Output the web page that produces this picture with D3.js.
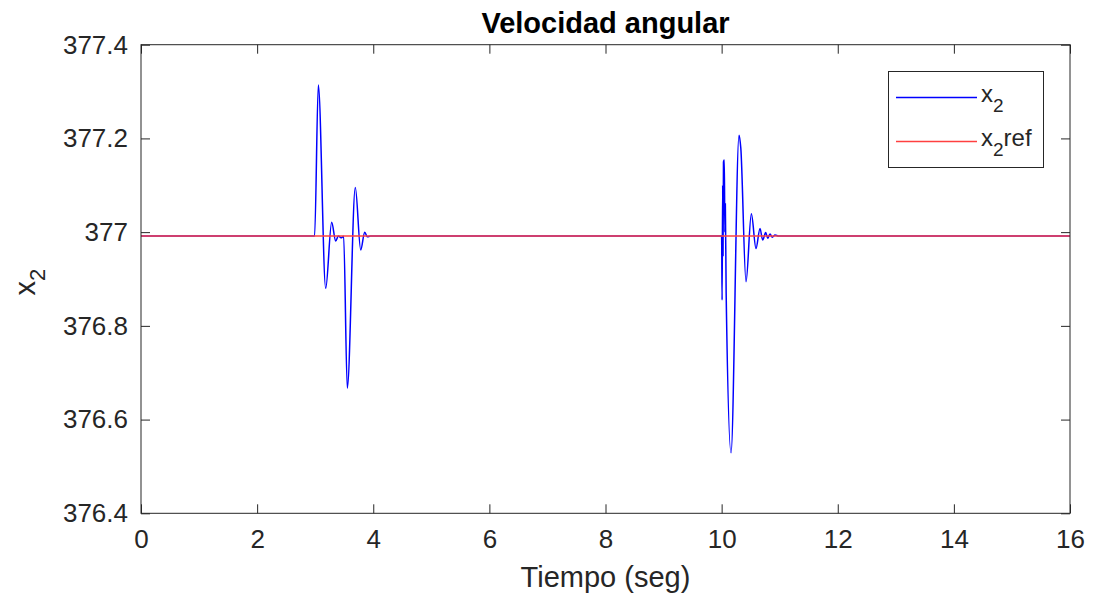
<!DOCTYPE html>
<meta charset="utf-8">
<head>
    <script type="text/javascript" src="https://cdn.jsdelivr.net/npm/d3@7"></script>
    <style>
        body { margin: 0; background: white; }
        text { font-family: "Liberation Sans", Arial, Helvetica, sans-serif; fill: #262626; }
    </style>
    <title>Velocidad angular</title>
</head>
<body>
<script>

    // time (s) and angular velocity
    var timeX2 = [0, 2.99, 3.054, 3.181, 3.284, 3.353, 3.399, 3.445, 3.49, 3.553, 3.691, 3.784, 3.853, 3.898, 3.95,
        10.0, 10.008, 10.018, 10.024, 10.032, 10.046, 10.056, 10.064, 10.078, 10.162, 10.30, 10.33, 10.42,
        10.512, 10.592, 10.661, 10.707, 10.759, 10.794, 10.833, 10.873, 10.92, 10.98, 16]
    var valX2 = [376.9915, 376.9915, 377.314, 376.880, 377.021, 376.981, 376.992, 376.988, 376.991, 376.667, 377.095, 376.962, 377.0, 376.99, 376.9915,
        376.9915, 376.855, 377.10, 376.95, 377.15, 377.154, 377.0, 377.06, 376.87, 376.529, 377.207, 377.18, 376.894,
        377.039, 376.965, 377.008, 376.983, 376.999, 376.987, 376.996, 376.989, 376.994, 376.9915, 376.9915]
    var timeRef = [0, 16]
    var valRef = [376.9915, 376.9915]

    var xTicks = [0, 2, 4, 6, 8, 10, 12, 14, 16]
    var yTicks = [376.4, 376.6, 376.8, 377, 377.2, 377.4]

    var width = 1095
    var height = 606
    var margin = {left: 141, top: 44.7, right: 25, bottom: 92.7}
    var w = width - margin.left - margin.right
    var h = height - margin.top - margin.bottom

    var svg = d3.select("body").append("svg")
        .attr("width", width)
        .attr("height", height)

    var x = d3.scaleLinear().domain([0, 16]).range([0, w])
    var y = d3.scaleLinear().domain([376.4, 377.4]).range([h, 0])

    var g = svg.append("g").attr("transform", "translate(" + margin.left + "," + margin.top + ")")

    var line = d3.line()
        .x(d => x(d[0]))
        .y(d => y(d[1]))
        .curve(d3.curveMonotoneX)

    g.append("path")
        .datum(d3.zip(timeX2, valX2))
        .attr("d", line)
        .style("fill", "none")
        .style("stroke", "#0000ff")
        .style("stroke-width", 1.5)

    g.append("path")
        .datum(d3.zip(timeRef, valRef))
        .attr("d", d3.line().x(d => x(d[0])).y(d => y(d[1])))
        .style("fill", "none")
        .style("stroke", "#ff4040")
        .style("stroke-width", 1.5)

    // axes, ticks pointing inward on all four sides
    var tl = 9
    function styleAxis(sel) {
        sel.select(".domain").remove()
        sel.selectAll(".tick line").style("stroke", "#262626")
        sel.selectAll(".tick text").style("font-size", "26px").style("fill", "#262626")
            .style("font-family", "'Liberation Sans', Arial, sans-serif")
    }

    g.append("g").attr("transform", "translate(0," + h + ")")
        .call(d3.axisBottom(x).tickValues(xTicks).tickSizeInner(-tl).tickSizeOuter(0).tickPadding(16).tickFormat(d3.format("d")))
        .call(styleAxis)
    g.append("g")
        .call(d3.axisTop(x).tickValues(xTicks).tickSizeInner(-tl).tickSizeOuter(0).tickFormat(""))
        .call(styleAxis)
    g.append("g")
        .call(d3.axisLeft(y).tickValues(yTicks).tickSizeInner(-tl).tickSizeOuter(0).tickPadding(13).tickFormat(d => +d.toFixed(1)))
        .call(styleAxis)
    g.append("g").attr("transform", "translate(" + w + ",0)")
        .call(d3.axisRight(y).tickValues(yTicks).tickSizeInner(-tl).tickSizeOuter(0).tickFormat(""))
        .call(styleAxis)

    g.append("rect")
        .attr("width", w).attr("height", h)
        .style("fill", "none").style("stroke", "#262626").style("stroke-width", 1)

    // title and axis labels
    svg.append("text")
        .attr("x", margin.left + w / 2).attr("y", 33)
        .attr("text-anchor", "middle")
        .style("font-size", "29px").style("font-weight", "bold").style("fill", "#000")
        .text("Velocidad angular")

    svg.append("text")
        .attr("x", margin.left + w / 2).attr("y", 587)
        .attr("text-anchor", "middle")
        .style("font-size", "29px")
        .text("Tiempo (seg)")

    var yl = svg.append("text")
        .attr("transform", "translate(35," + (margin.top + h / 2 + 3) + ") rotate(-90)")
        .attr("text-anchor", "middle")
        .style("font-size", "29px")
    yl.append("tspan").text("x")
    yl.append("tspan").attr("dy", 10).style("font-size", "22px").text("2")

    // legend
    var leg = svg.append("g").attr("transform", "translate(888,71)")
    leg.append("rect").attr("x", 0.5).attr("y", 0.5).attr("width", 155).attr("height", 96)
        .style("fill", "white").style("stroke", "#262626").style("stroke-width", 1)

    var legItems = [
        {color: "#0000ff", label: ""},
        {color: "#ff4040", label: "ref"}
    ]
    legItems.forEach(function (d, i) {
        var yy = 26.5 + i * 44
        leg.append("line").attr("x1", 8).attr("x2", 89).attr("y1", yy).attr("y2", yy)
            .style("stroke", d.color).style("stroke-width", 1.5)
        var t = leg.append("text").attr("x", 93).attr("y", yy + 4).style("font-size", "24px")
        t.append("tspan").text("x")
        t.append("tspan").attr("dy", 10).style("font-size", "19px").text("2")
        if (d.label) t.append("tspan").attr("dy", -10).text(d.label)
    })

</script>
</body>
</html>
